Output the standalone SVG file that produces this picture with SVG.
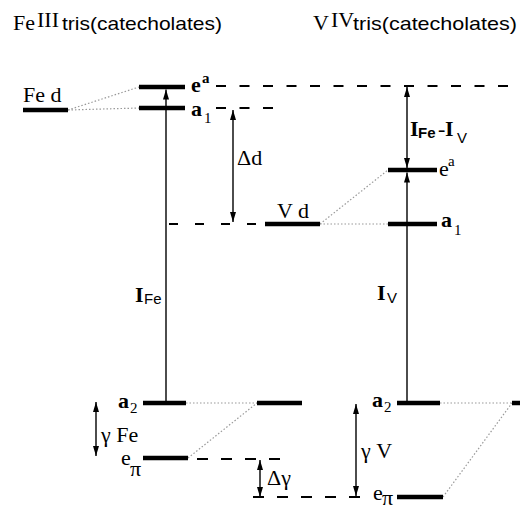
<svg xmlns="http://www.w3.org/2000/svg" width="520" height="509" viewBox="0 0 520 509">
<style>
.bar{stroke:#000;stroke-width:4.5;fill:none}
.dash{stroke:#000;stroke-width:2;stroke-dasharray:10 13.5;fill:none}
.dot{stroke:#999;stroke-width:1.2;stroke-dasharray:1.5 2;fill:none}
.arr{stroke:#000;stroke-width:1.4;fill:none}
.t{font-family:"Liberation Serif","Times New Roman",serif;font-size:22px;fill:#000}
.ts{font-family:"Liberation Sans",Arial,sans-serif;fill:#000}
.b{font-weight:bold}
.sub{font-size:15px}
</style>
<defs>
<marker id="ah" viewBox="0 0 10 6" refX="10" refY="3" markerWidth="11" markerHeight="6" markerUnits="userSpaceOnUse" orient="auto-start-reverse">
<path d="M0,0 L10,3 L0,6 Z" fill="#000"/>
</marker>
</defs>
<rect width="520" height="509" fill="#fff"/>

<g id="titles">
<text class="t" x="13" y="30" font-size="21">Fe</text>
<text class="t" x="37" y="27" font-size="12">III</text>
<text class="ts" x="62" y="30" font-size="19" textLength="160" lengthAdjust="spacingAndGlyphs">tris(catecholates)</text>
<text class="t" x="313" y="30" font-size="21">V</text>
<text class="t" x="331" y="27" font-size="12">IV</text>
<text class="ts" x="353" y="30" font-size="19" textLength="164" lengthAdjust="spacingAndGlyphs">tris(catecholates)</text>
</g>

<g id="connectors">
<line class="dot" x1="68" y1="110" x2="139" y2="87"/>
<line class="dot" x1="68" y1="110" x2="139" y2="108"/>
<line class="dot" x1="320" y1="224" x2="388" y2="170"/>
<line class="dot" x1="320" y1="224" x2="388" y2="224"/>
<line class="dot" x1="186" y1="403" x2="257" y2="403"/>
<line class="dot" x1="188" y1="458" x2="257" y2="403"/>
<line class="dot" x1="440" y1="403" x2="512" y2="403"/>
<line class="dot" x1="443" y1="497" x2="512" y2="403"/>
<line class="dash" x1="216" y1="86" x2="515" y2="86"/>
<line class="dash" x1="216" y1="108" x2="278" y2="108"/>
<line class="dash" x1="166" y1="224" x2="258" y2="224" style="stroke-dasharray:0 3 9 14"/>
<line class="dash" x1="197" y1="459" x2="280" y2="459" style="stroke-dasharray:11 13"/>
<line class="dash" x1="253" y1="497" x2="360" y2="497" style="stroke-dasharray:11 13"/>
<line class="arr" x1="166" y1="403" x2="166" y2="89.5" marker-end="url(#ah)"/>
<line class="arr" x1="233" y1="110" x2="233" y2="222" marker-start="url(#ah)" marker-end="url(#ah)"/>
<line class="arr" x1="407" y1="87" x2="407" y2="168" marker-start="url(#ah)" marker-end="url(#ah)"/>
<line class="arr" x1="407" y1="403" x2="407" y2="172.5" marker-end="url(#ah)"/>
<line class="arr" x1="96" y1="402" x2="96" y2="456" marker-start="url(#ah)" marker-end="url(#ah)"/>
<line class="arr" x1="260" y1="460" x2="260" y2="497" marker-start="url(#ah)" marker-end="url(#ah)"/>
<line class="arr" x1="356" y1="404" x2="356" y2="496" marker-start="url(#ah)" marker-end="url(#ah)"/>
</g>

<g id="fe-d">
<line class="bar" x1="23" y1="110" x2="68" y2="110"/>
<text class="t" x="23" y="102">Fe d</text>
</g>
<g id="fe-ea">
<line class="bar" x1="139" y1="87" x2="185" y2="87"/>
<text class="t b" x="191" y="92" font-size="20">e</text>
<text class="t b sub" x="202" y="83">a</text>
</g>
<g id="fe-a1">
<line class="bar" x1="139" y1="108" x2="185" y2="108"/>
<text class="t b" x="191" y="116" font-size="20">a</text>
<text class="t sub" x="204" y="123">1</text>
</g>
<g id="v-d">
<line class="bar" x1="265" y1="224" x2="320" y2="224"/>
<text class="t" x="277" y="218">V d</text>
</g>
<g id="v-ea">
<line class="bar" x1="388" y1="170" x2="437" y2="170"/>
<text class="t" x="439" y="176">e</text>
<text class="t sub" x="448" y="166">a</text>
</g>
<g id="v-a1">
<line class="bar" x1="388" y1="224" x2="437" y2="224"/>
<text class="t b" x="441" y="227">a</text>
<text class="t sub" x="454" y="235">1</text>
</g>
<g id="fe-a2">
<line class="bar" x1="143" y1="403" x2="186" y2="403"/>
<text class="t b" x="118" y="408">a</text>
<text class="t sub" x="130" y="413">2</text>
</g>
<g id="fe-epi">
<line class="bar" x1="143" y1="458" x2="188" y2="458"/>
<text class="t" x="121" y="465">e</text>
<text class="t" x="130" y="476" font-size="18">π</text>
</g>
<g id="lig-mid">
<line class="bar" x1="257" y1="403" x2="302" y2="403"/>
</g>
<g id="v-a2">
<line class="bar" x1="397" y1="403" x2="440" y2="403"/>
<text class="t b" x="372" y="407">a</text>
<text class="t sub" x="384" y="412">2</text>
</g>
<g id="v-epi">
<line class="bar" x1="397" y1="497" x2="443" y2="497"/>
<text class="t" x="373" y="500">e</text>
<text class="t" x="382" y="505" font-size="13">π</text>
</g>
<g id="lig-right">
<line class="bar" x1="512" y1="403" x2="520" y2="403"/>
</g>

<g id="labels">
<text class="t" x="237" y="165">Δd</text>
<text class="t b" x="410" y="136">I</text>
<text class="ts b" x="418" y="138" font-size="15">Fe</text>
<text class="t" x="438" y="136">-</text>
<text class="t b" x="445" y="136">I</text>
<text class="ts" x="457" y="143" font-size="15">V</text>
<text class="t b" x="135" y="302">I</text>
<text class="ts" x="144" y="304" font-size="15">Fe</text>
<text class="t b" x="377" y="300">I</text>
<text class="ts" x="387" y="303" font-size="15">V</text>
<text class="t" x="101" y="442">γ Fe</text>
<text class="t" x="267" y="485">Δγ</text>
<text class="t" x="361" y="458">γ V</text>
</g>
</svg>
